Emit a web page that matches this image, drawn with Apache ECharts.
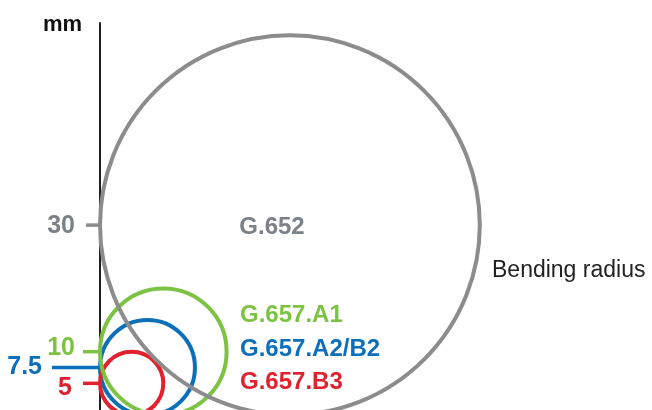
<!DOCTYPE html>
<html><head><meta charset="utf-8">
<script src="https://cdn.jsdelivr.net/npm/echarts@6/dist/echarts.min.js"></script>
<style>html,body{margin:0;padding:0;background:#fff}#c{width:652px;height:410px}</style>
</head><body><div id="c"></div>
<script>
// ---- data ----
const fibreTypes = ['G.652', 'G.657.A1', 'G.657.A2/B2', 'G.657.B3'];
const bendRadius = [30, 10, 7.5, 5];          // mm
const tickValues = [30, 10, 7.5, 5];
const tickLabels = ['30', '10', '7.5', '5'];
const unitLabel = 'mm';
const sideLabel = 'Bending radius';

// ---- styles ----
const fibreColors = ['#8c8c8c', '#7cc243', '#0d6fba', '#e1222e'];
const fibreTextColors = ['#7b8189', '#7cc243', '#0d6fba', '#e1222e'];
const drawOrder = [2, 3, 1, 0];
const tickLen = [14, 17, 48, 17];
const tickGap = [11, 8, 10, 11];
const tickDy = [1, -4, 0, 5];
const labelPos = [[272, 227, 'center'], [240, 315, 'left'], [240, 349, 'left'], [240, 382, 'left']];
const boldFont = 'Liberation Sans';
const PX = 6.33;

const chart = echarts.init(document.getElementById('c'), null, {renderer: 'canvas'});

const circleData = drawOrder.map(i => [bendRadius[i], i]);
const tickData = tickValues.map((v, i) => [v, i]);

chart.setOption({
  animation: false,
  backgroundColor: '#fff',
  grid: {left: 100, top: 23, width: 86 * PX, height: 392, outerBoundsMode: 'none', containLabel: false},
  xAxis: {type: 'value', min: 0, max: 86, show: false},
  yAxis: {
    type: 'value', min: 0, max: 392 / PX,
    axisLine: {show: true, lineStyle: {color: '#1e1e1e', width: 2}},
    axisTick: {show: false}, axisLabel: {show: false}, splitLine: {show: false}
  },
  series: [
    {
      type: 'custom', clip: false, z: 3,
      data: circleData,
      renderItem(params, api) {
        const r = api.value(0), k = api.value(1);
        const c = api.coord([r, r]);
        const rr = api.size([r, 0])[0];
        return {type: 'circle', shape: {cx: c[0], cy: c[1], r: rr},
          style: {fill: 'none', stroke: fibreColors[k], lineWidth: 4}};
      }
    },
    {
      type: 'custom', clip: false, z: 2,
      data: tickData,
      renderItem(params, api) {
        const v = api.value(0), k = api.value(1);
        const p = api.coord([0, v]);
        return {type: 'group', children: [
          {type: 'line', shape: {x1: p[0] - tickLen[k], y1: p[1], x2: p[0], y2: p[1]},
            style: {stroke: fibreColors[k], lineWidth: 3.5}},
          {type: 'text', x: p[0] - tickLen[k] - tickGap[k], y: p[1] + tickDy[k],
            style: {text: tickLabels[k], fill: fibreTextColors[k], align: 'right', verticalAlign: 'middle',
              font: 'bold 25px "' + boldFont + '"'}}
        ]};
      }
    }
  ],
  graphic: [
    ...fibreTypes.map((t, i) => ({
      type: 'text', x: labelPos[i][0], y: labelPos[i][1], z: 10,
      style: {text: t, fill: fibreTextColors[i], align: labelPos[i][2], verticalAlign: 'middle',
        font: 'bold 24px "' + boldFont + '"'}
    })),
    {type: 'text', x: 492, y: 271, style: {text: sideLabel, fill: '#222', align: 'left', verticalAlign: 'middle',
      font: '23px "Liberation Sans"'}},
    {type: 'text', x: 82, y: 25, style: {text: unitLabel, fill: '#111', align: 'right', verticalAlign: 'middle',
      font: 'bold 22px "' + boldFont + '"'}}
  ]
});
</script></body></html>
